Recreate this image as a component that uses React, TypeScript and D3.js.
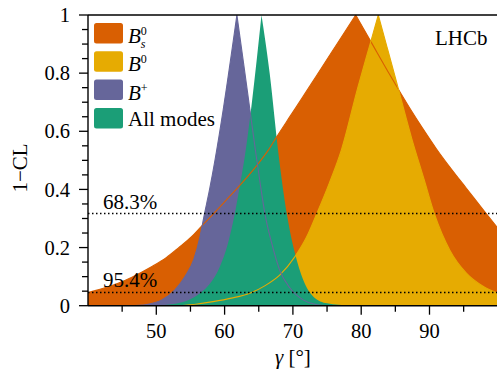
import React from "react";
import * as d3 from "d3";

// ---- data (gamma in degrees, 1-CL) ----
const bs0Gamma = [40, 42, 44.4, 46.5, 49.3, 51.5, 53.2, 55.2, 56.6, 58.6, 60.5, 62.0, 64.7, 66.4, 67.6, 69.6, 71.5, 73.5, 76.5, 79.2, 81.5, 84.3, 87.1, 89, 91.0, 93.2, 95.4, 98.1, 100];
const bs0CL = [0.045, 0.058, 0.077, 0.099, 0.134, 0.166, 0.198, 0.238, 0.273, 0.322, 0.37, 0.408, 0.482, 0.535, 0.58, 0.652, 0.72, 0.793, 0.902, 1.0, 0.905, 0.79, 0.68, 0.61, 0.54, 0.47, 0.404, 0.323, 0.267];

const b0Gamma = [53.5, 56, 58.3, 61, 63.7, 66, 68.1, 70.3, 72, 73.5, 75.3, 77.1, 79.5, 81.3, 82.5, 83.8, 85.2, 87.4, 89.2, 90.7, 93.0, 95.4, 97.9, 100];
const b0CL = [0, 0.006, 0.014, 0.026, 0.043, 0.07, 0.106, 0.169, 0.236, 0.317, 0.42, 0.536, 0.75, 0.9, 1.0, 0.888, 0.767, 0.575, 0.435, 0.317, 0.19, 0.112, 0.066, 0.043];

const bpGamma = [46, 47.5, 48.8, 50.8, 52.7, 54.2, 55.5, 56.4, 57.0, 57.8, 58.6, 59.8, 61.8, 62.8, 63.7, 64.6, 65.2, 65.9, 66.9, 68.1, 69.6, 71.5, 73.5, 75];
const bpCL = [0, 0.001, 0.005, 0.02, 0.054, 0.1, 0.16, 0.238, 0.31, 0.4, 0.502, 0.675, 1.0, 0.83, 0.675, 0.52, 0.422, 0.317, 0.215, 0.12, 0.06, 0.02, 0.003, 0];

const allGamma = [50, 52.5, 54.4, 56.4, 57.9, 59.3, 60.5, 61.5, 62.3, 63.0, 64.0, 65.4, 66.6, 67.9, 69.1, 70.3, 71.5, 73, 75, 78.4];
const allCL = [0, 0.006, 0.016, 0.043, 0.077, 0.134, 0.215, 0.317, 0.422, 0.52, 0.7, 1.0, 0.8, 0.52, 0.317, 0.18, 0.089, 0.031, 0.008, 0];

const xTicks = [50, 60, 70, 80, 90];
const xTickLabels = ["50", "60", "70", "80", "90"];
const xMinorTicks = [45, 55, 65, 75, 85, 95];
const yTicks = [0, 0.2, 0.4, 0.6, 0.8, 1];
const yTickLabels = ["0", "0.2", "0.4", "0.6", "0.8", "1"];
const yMinorTicks = [0.05, 0.1, 0.15, 0.25, 0.3, 0.35, 0.45, 0.5, 0.55, 0.65, 0.7, 0.75, 0.85, 0.9, 0.95];
const clLevels = [0.317, 0.0455];
const clLabels = ["68.3%", "95.4%"];

const COLORS = {
  bs0: "#D95F02",
  b0: "#E6AB02",
  bp: "#66669A",
  all: "#1B9E77",
};

const W = 497;
const H = 374;
const L = 88;
const R = 497.8;
const T = 15;
const B = 305.7;
const FONT = "Liberation Serif, DejaVu Serif, serif";

const x = d3.scaleLinear().domain([40, 100]).range([L, R]);
const y = d3.scaleLinear().domain([0, 1]).range([B, T]);

function curvePaths(gs: number[], cls: number[]) {
  const pts: [number, number][] = gs.map((g, i) => [x(g), y(cls[i])]);
  let pk = 0;
  cls.forEach((c, i) => {
    if (c > cls[pk]) pk = i;
  });
  const line = d3.line().curve(d3.curveMonotoneX);
  const left = line(pts.slice(0, pk + 1)) as string;
  const right = (line(pts.slice(pk)) as string).replace(/^M/, "L");
  const top = left + right;
  const first = pts[0];
  const last = pts[pts.length - 1];
  const area = `${top}L${last[0]},${y(0)}L${first[0]},${y(0)}Z`;
  return { top, area };
}

const series = [
  { key: "bs0", g: bs0Gamma, c: bs0CL, color: COLORS.bs0, stroke: true },
  { key: "b0", g: b0Gamma, c: b0CL, color: COLORS.b0, stroke: true },
  { key: "bp", g: bpGamma, c: bpCL, color: COLORS.bp, stroke: true },
  { key: "all", g: allGamma, c: allCL, color: COLORS.all, stroke: false },
];

const txt = { fontFamily: FONT };

export default function App() {
  const paths = series.map((s) => ({ ...s, ...curvePaths(s.g, s.c) }));
  const legendRows = [COLORS.bs0, COLORS.b0, COLORS.bp, COLORS.all];
  const rowY = (i: number) => 23 + i * 28.3;
  return (
    <svg
      width={W}
      height={H}
      style={{ position: "absolute", left: 0, top: 0, background: "#fff", fontFamily: FONT }}
    >
      <defs>
        <clipPath id="plotclip">
          <rect x={L} y={T} width={R - L} height={B - T} />
        </clipPath>
      </defs>
      <g clipPath="url(#plotclip)">
        {paths.map((p) => (
          <path key={p.key + "a"} d={p.area} fill={p.color} stroke="none" />
        ))}
        {paths
          .filter((p) => p.stroke)
          .map((p) => (
            <path key={p.key + "l"} d={p.top} fill="none" stroke={p.color} strokeWidth={1.1} />
          ))}
        {clLevels.map((v) => (
          <line
            key={v}
            x1={L}
            x2={R}
            y1={y(v)}
            y2={y(v)}
            stroke="#000"
            strokeWidth={1.4}
            strokeDasharray="1.5,2.5"
          />
        ))}
      </g>
      {clLevels.map((v, i) => (
        <text key={"cl" + i} x={103} y={y(v) - 5} fontSize={21} fill="#000" style={txt}>
          {clLabels[i]}
        </text>
      ))}

      {/* frame */}
      <line x1={L} x2={L} y1={T} y2={B} stroke="#000" strokeWidth={1.4} />
      <line x1={L} x2={W + 2} y1={B} y2={B} stroke="#000" strokeWidth={1.4} />
      <line x1={L} x2={W + 2} y1={T} y2={T} stroke="#000" strokeWidth={1.4} />

      {/* y ticks */}
      {yTicks.map((v, i) => (
        <g key={"yt" + i}>
          <line x1={L - 9} x2={L} y1={y(v)} y2={y(v)} stroke="#000" strokeWidth={1.3} />
          <text x={70} y={y(v)} dy="0.35em" textAnchor="end" fontSize={20.5} style={txt}>
            {yTickLabels[i]}
          </text>
        </g>
      ))}
      {yMinorTicks.map((v) => (
        <line key={"ym" + v} x1={L - 6} x2={L} y1={y(v)} y2={y(v)} stroke="#000" strokeWidth={1.3} />
      ))}

      {/* x ticks */}
      {xTicks.map((v, i) => (
        <g key={"xt" + i}>
          <line x1={x(v)} x2={x(v)} y1={B} y2={B + 9} stroke="#000" strokeWidth={1.3} />
          <text x={x(v)} y={337.5} textAnchor="middle" fontSize={20.5} style={txt}>
            {xTickLabels[i]}
          </text>
        </g>
      ))}
      {xMinorTicks.map((v) => (
        <line key={"xm" + v} x1={x(v)} x2={x(v)} y1={B} y2={B + 6} stroke="#000" strokeWidth={1.3} />
      ))}

      {/* axis titles */}
      <text x={x(70)} y={364} textAnchor="middle" fontSize={21} style={txt}>
        <tspan fontStyle="italic">γ</tspan> [°]
      </text>
      <text transform={`translate(27,168) rotate(-90)`} textAnchor="middle" fontSize={21} style={txt}>
        1−CL
      </text>

      {/* LHCb */}
      <text x={435} y={45} fontSize={21} style={txt}>
        LHCb
      </text>

      {/* legend */}
      {legendRows.map((c, i) => (
        <rect key={"lg" + i} x={94} y={rowY(i)} width={29} height={20.5} rx={2.5} fill={c} />
      ))}
      <text x={128} y={rowY(0) + 20} fontSize={21} style={txt}>
        <tspan fontStyle="italic">B</tspan>
        <tspan fontSize={12} dy={-8}>0</tspan>
        <tspan fontSize={12} fontStyle="italic" dx={-6} dy={13}>s</tspan>
      </text>
      <text x={128} y={rowY(1) + 20} fontSize={21} style={txt}>
        <tspan fontStyle="italic">B</tspan>
        <tspan fontSize={12} dy={-8}>0</tspan>
      </text>
      <text x={128} y={rowY(2) + 20} fontSize={21} style={txt}>
        <tspan fontStyle="italic">B</tspan>
        <tspan fontSize={12} dy={-8}>+</tspan>
      </text>
      <text x={128} y={rowY(3) + 18} fontSize={21} style={txt}>
        All modes
      </text>
    </svg>
  );
}
